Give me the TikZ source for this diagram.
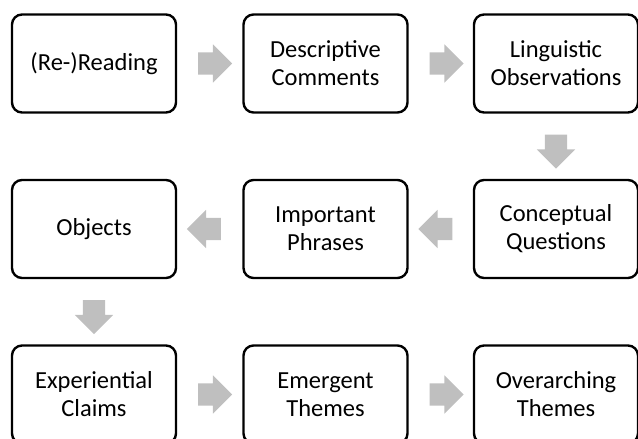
\documentclass[tikz,border=0pt]{standalone}
\usepackage{fontspec}
\setmainfont{Carlito}
\usetikzlibrary{shapes.arrows}

\definecolor{arrowgrey}{RGB}{191,191,191}

\tikzset{
  stepbox/.style={draw=black, line width=2.4pt, rounded corners=10pt,
    minimum width=164pt, minimum height=98pt, align=center,
    font=\fontsize{24.5}{28}\selectfont},
  blockarrow/.style={single arrow, fill=arrowgrey, draw=none,
    inner xsep=0pt, inner ysep=11pt,
    minimum height=34pt, single arrow head extend=8pt}
}

\begin{document}
\begin{tikzpicture}[x=1pt,y=-1pt]
            \useasboundingbox (0,0) rectangle (638,439);

            % first row
            \node[stepbox] (reread) at (94,63.5) {(Re-)Reading};
            \node[stepbox] (descr) at (325.5,63.5) {Descriptive\\Comments};
            \node[stepbox] (ling) at (556,63.5) {Linguistic\\Observations};

            % second row
            \node[stepbox] (concept) at (556,229) {Conceptual\\Questions};
            \node[stepbox] (phrases) at (325.5,229) {Important\\Phrases};
            \node[stepbox] (objects) at (94,229) {Objects};

            % third row
            \node[stepbox] (claims) at (94,394.5) {Experiential\\Claims};
            \node[stepbox] (emerg) at (325.5,394.5) {Emergent\\Themes};
            \node[stepbox] (overarch) at (556,394.5) {Overarching\\Themes};

            % arrows
            \node[blockarrow] (a1) at (209.5,63.5) {};
            \node[blockarrow] (a2) at (441,63.5) {};
            \node[blockarrow, rotate=-90] (a3) at (556,146) {};
            \node[blockarrow, rotate=180] (a4) at (441,229) {};
            \node[blockarrow, rotate=180] (a5) at (209.5,229) {};
            \node[blockarrow, rotate=-90] (a6) at (94,311.5) {};
            \node[blockarrow] (a7) at (209.5,394.5) {};
            \node[blockarrow] (a8) at (441,394.5) {};
        \end{tikzpicture}
\end{document}
